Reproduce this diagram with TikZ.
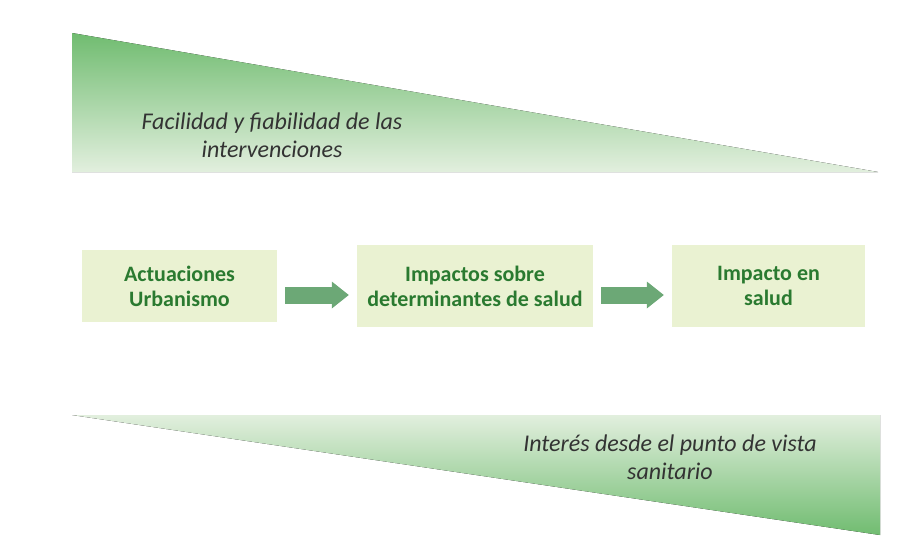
\documentclass[tikz,border=0pt]{standalone}
\usepackage{fontspec}
\setmainfont{Carlito}
\usetikzlibrary{arrows.meta}

\definecolor{boxfill}{RGB}{234,242,210}
\definecolor{textgreen}{RGB}{42,122,48}
\definecolor{arrowgreen}{RGB}{108,168,118}
\definecolor{wedgegreen}{RGB}{112,188,112}
\definecolor{wedgemid}{RGB}{168,214,164}
\definecolor{wedgepale}{RGB}{226,239,222}

\tikzset{
	stage/.style={fill=boxfill, text=textgreen, font=\fontsize{22}{25}\selectfont\bfseries, align=center, inner sep=0pt, minimum height=82pt},
	flow/.style={draw=arrowgreen, line width=17pt, -{Triangle[length=17pt,width=27pt,line width=0pt]}, shorten <=8pt, shorten >=8pt},
	wedgetext/.style={text=black!80, font=\fontsize{24}{28}\selectfont\itshape, align=center}
}

\begin{document}
\begin{tikzpicture}[x=1pt,y=-1pt]
	\useasboundingbox (0,0) rectangle (900,555);

	% Draw the wedges
	\fill[top color=wedgegreen, middle color=wedgemid, bottom color=wedgepale] (72,33) -- (72,172) -- (878,172) -- cycle;
	\fill[top color=wedgepale, middle color=wedgemid, bottom color=wedgegreen] (72,415) -- (880,415) -- (880,535) -- cycle;

	% Label the wedges
	\node[wedgetext] (fac) at (272,135) {Facilidad y fiabilidad de las\\intervenciones};
	\node[wedgetext] (int) at (670,457) {Interés desde el punto de vista\\sanitario};

	% Draw the stages
	\node[stage, minimum width=195pt, minimum height=72pt] (act) at (179.5,286) {Actuaciones\\Urbanismo};
	\node[stage, minimum width=236pt] (imp) at (475,286) {Impactos sobre\\determinantes de salud};
	\node[stage, minimum width=193pt] (sal) at (768.5,286) {Impacto en\\salud};

	% Draw the arrows
	\draw[flow] ([yshift=-9pt]act.east) -- ([yshift=-9pt]imp.west);
	\draw[flow] ([yshift=-9pt]imp.east) -- ([yshift=-9pt]sal.west);
\end{tikzpicture}
\end{document}
